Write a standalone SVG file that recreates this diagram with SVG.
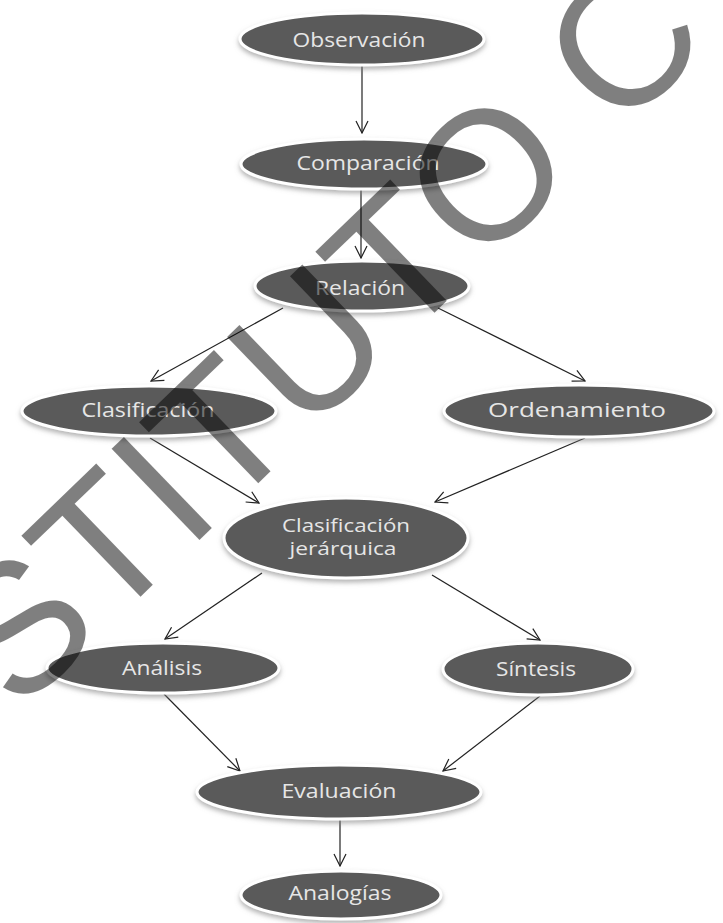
<svg xmlns="http://www.w3.org/2000/svg" width="723" height="923" viewBox="0 0 723 923">
<style>
.n ellipse{fill:#5a5a5a;stroke:#ffffff;stroke-width:3;filter:url(#sh)}
.n text{font-family:"Open Sans","Noto Sans",sans-serif;font-size:20px;fill:#e6e6e6;text-anchor:middle}
.n text.s{font-size:18.5px}
.c line{stroke:#222;stroke-width:1.2;fill:none;marker-end:url(#ah)}
.wm{font-family:"Liberation Sans",Arial,sans-serif;font-size:184px;fill:#000;fill-opacity:0.5}
</style>
<defs>
<filter id="sh" x="-10%" y="-30%" width="120%" height="170%">
<feDropShadow dx="0" dy="3" stdDeviation="2.5" flood-color="#808080" flood-opacity="0.6"/>
</filter>
<marker id="ah" viewBox="0 0 14 14" refX="13" refY="7" markerWidth="14" markerHeight="14" markerUnits="userSpaceOnUse" orient="auto">
<path d="M1,1 L13,7 L1,13" fill="none" stroke="#222" stroke-width="1.2"/>
</marker>
</defs>
<rect width="723" height="923" fill="#ffffff"/>
<g class="c" id="connectors">
<line x1="362" y1="66" x2="362" y2="133"/>
<line x1="361" y1="190" x2="361" y2="258"/>
<line x1="283" y1="308" x2="151" y2="381"/>
<line x1="438" y1="308" x2="585" y2="381"/>
<line x1="150" y1="438" x2="259" y2="503"/>
<line x1="585" y1="438" x2="435" y2="502"/>
<line x1="262" y1="573" x2="165" y2="639"/>
<line x1="432" y1="575" x2="540" y2="640"/>
<line x1="164" y1="694" x2="240" y2="771"/>
<line x1="540" y1="696" x2="443" y2="771"/>
<line x1="340" y1="820" x2="340" y2="866"/>
</g>
<g class="n" id="observacion"><ellipse cx="362" cy="39" rx="122" ry="26"/><text x="359" y="47" textLength="133" lengthAdjust="spacingAndGlyphs">Observación</text></g>
<g class="n" id="comparacion"><ellipse cx="364" cy="164" rx="123" ry="25"/><text x="368" y="170" textLength="143" lengthAdjust="spacingAndGlyphs">Comparación</text></g>
<g class="n" id="relacion"><ellipse cx="362" cy="286" rx="107" ry="25"/><text x="360" y="295" textLength="90" lengthAdjust="spacingAndGlyphs">Relación</text></g>
<g class="n" id="clasificacion"><ellipse cx="149" cy="411" rx="127" ry="25"/><text x="148" y="417" textLength="133" lengthAdjust="spacingAndGlyphs">Clasificación</text></g>
<g class="n" id="ordenamiento"><ellipse cx="579" cy="411" rx="135" ry="26"/><text x="577" y="417" textLength="178" lengthAdjust="spacingAndGlyphs">Ordenamiento</text></g>
<g class="n" id="clasificacion-jerarquica"><ellipse cx="346" cy="538" rx="122" ry="40"/><text class="s" x="346" y="532" textLength="128" lengthAdjust="spacingAndGlyphs">Clasificación</text><text class="s" x="343" y="555" textLength="107" lengthAdjust="spacingAndGlyphs">jerárquica</text></g>
<g class="n" id="analisis"><ellipse cx="163" cy="668" rx="116" ry="25"/><text x="162" y="675" textLength="80" lengthAdjust="spacingAndGlyphs">Análisis</text></g>
<g class="n" id="sintesis"><ellipse cx="538" cy="669" rx="95" ry="26"/><text x="536" y="676" textLength="80" lengthAdjust="spacingAndGlyphs">Síntesis</text></g>
<g class="n" id="evaluacion"><ellipse cx="339" cy="792" rx="142" ry="27"/><text x="339" y="798" textLength="115" lengthAdjust="spacingAndGlyphs">Evaluación</text></g>
<g class="n" id="analogias"><ellipse cx="341" cy="895" rx="100" ry="24"/><text x="340" y="900" textLength="103" lengthAdjust="spacingAndGlyphs">Analogías</text></g>
<g id="watermark"><text class="wm" x="18" y="715" transform="rotate(-44 18 715)">STITUTO C</text></g>
</svg>
